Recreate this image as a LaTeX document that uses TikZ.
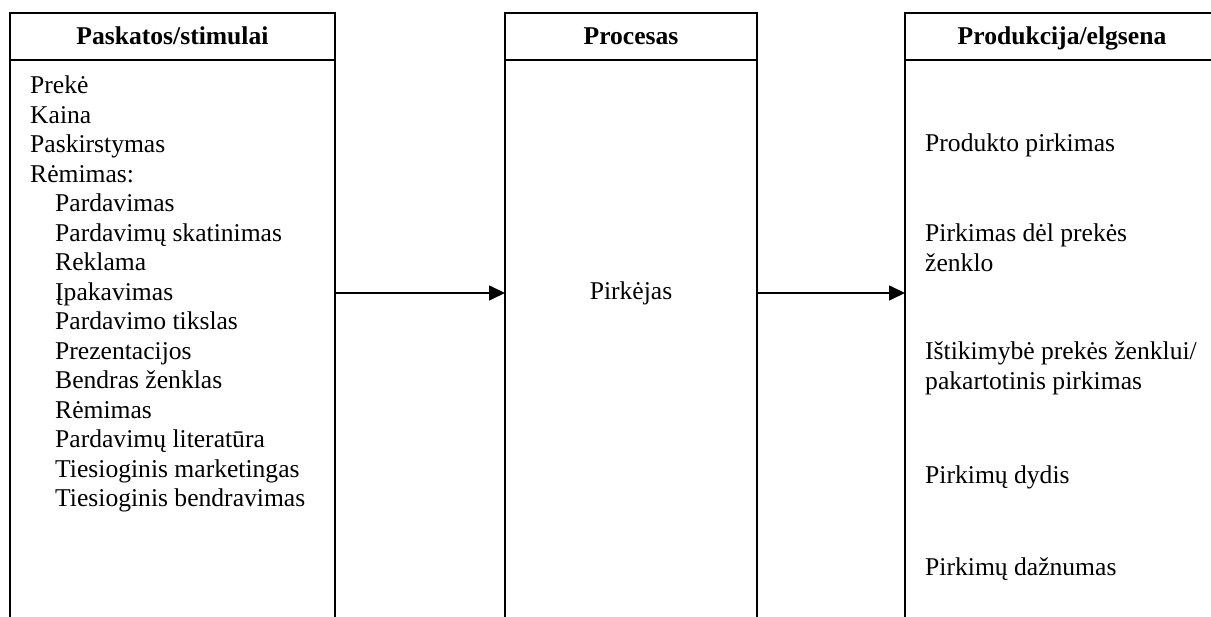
\documentclass[tikz,border=0pt]{standalone}
\usepackage{fontspec}
\setmainfont{Liberation Serif}
\usetikzlibrary{arrows.meta}
\begin{document}
\begin{tikzpicture}[x=1pt,y=-1pt,
  colbox/.style={draw, line width=1.9pt, rectangle, inner sep=0pt, outer sep=0pt, anchor=north west, minimum height=660pt},
  head/.style={font=\fontsize{25.6pt}{29.5pt}\selectfont\bfseries, anchor=base, inner sep=0pt},
  item/.style={font=\fontsize{25.6pt}{29.5pt}\selectfont, anchor=base west, inner sep=0pt},
  sep/.style={line width=1.9pt},
  arr/.style={line width=1.6pt, -{Triangle[length=16pt,width=15pt]}}]
\useasboundingbox (0,0) rectangle (1211,617);
\clip (0,0) rectangle (1211,617);
\fill[white] (0,0) rectangle (1211,617);
% columns
\node[colbox, minimum width=325pt] (L) at (10,13) {};
\node[colbox, minimum width=252pt] (M) at (505,13) {};
\node[colbox, minimum width=314pt] (R) at (905,13) {};
\coordinate (hy) at (0,60);
\draw[sep] (L.west |- hy) -- (L.east |- hy);
\draw[sep] (M.west |- hy) -- (M.east |- hy);
\draw[sep] (R.west |- hy) -- (R.east |- hy);
% headers
\node[head] (hL) at (172.5,45) {Paskatos/stimulai};
\node[head] (hM) at (631,45) {Procesas};
\node[head] (hR) at (1062,45) {Produkcija/elgsena};
% left list
\foreach \t [count=\i from 0] in {Prekė,Kaina,Paskirstymas,Rėmimas:}
  \node[item] (a\i) at (30,{94+29.5*\i}) {\t};
\foreach \t [count=\i from 4] in {Pardavimas,Pardavimų skatinimas,Reklama,Įpakavimas,Pardavimo tikslas,Prezentacijos,Bendras ženklas,Rėmimas,Pardavimų literatūra,Tiesioginis marketingas,Tiesioginis bendravimas}
  \node[item] (a\i) at (55,{94+29.5*\i}) {\t};
% middle
\node[head, font=\fontsize{25.6pt}{29.5pt}\selectfont] (P) at (631,300) {Pirkėjas};
% right list
\node[item] (r1) at (925,152) {Produkto pirkimas};
\node[item] (r2) at (925,242) {Pirkimas dėl prekės};
\node[item] (r2b) at (925,272) {ženklo};
\node[item] (r3) at (925,360) {Ištikimybė prekės ženklui/};
\node[item] (r3b) at (925,390) {pakartotinis pirkimas};
\node[item] (r4) at (925,484) {Pirkimų dydis};
\node[item] (r5) at (925,575) {Pirkimų dažnumas};
% arrows
\coordinate (ay) at (0,293);
\draw[arr] (L.east |- ay) -- (M.west |- ay);
\draw[arr] (M.east |- ay) -- (R.west |- ay);
\end{tikzpicture}
\end{document}
